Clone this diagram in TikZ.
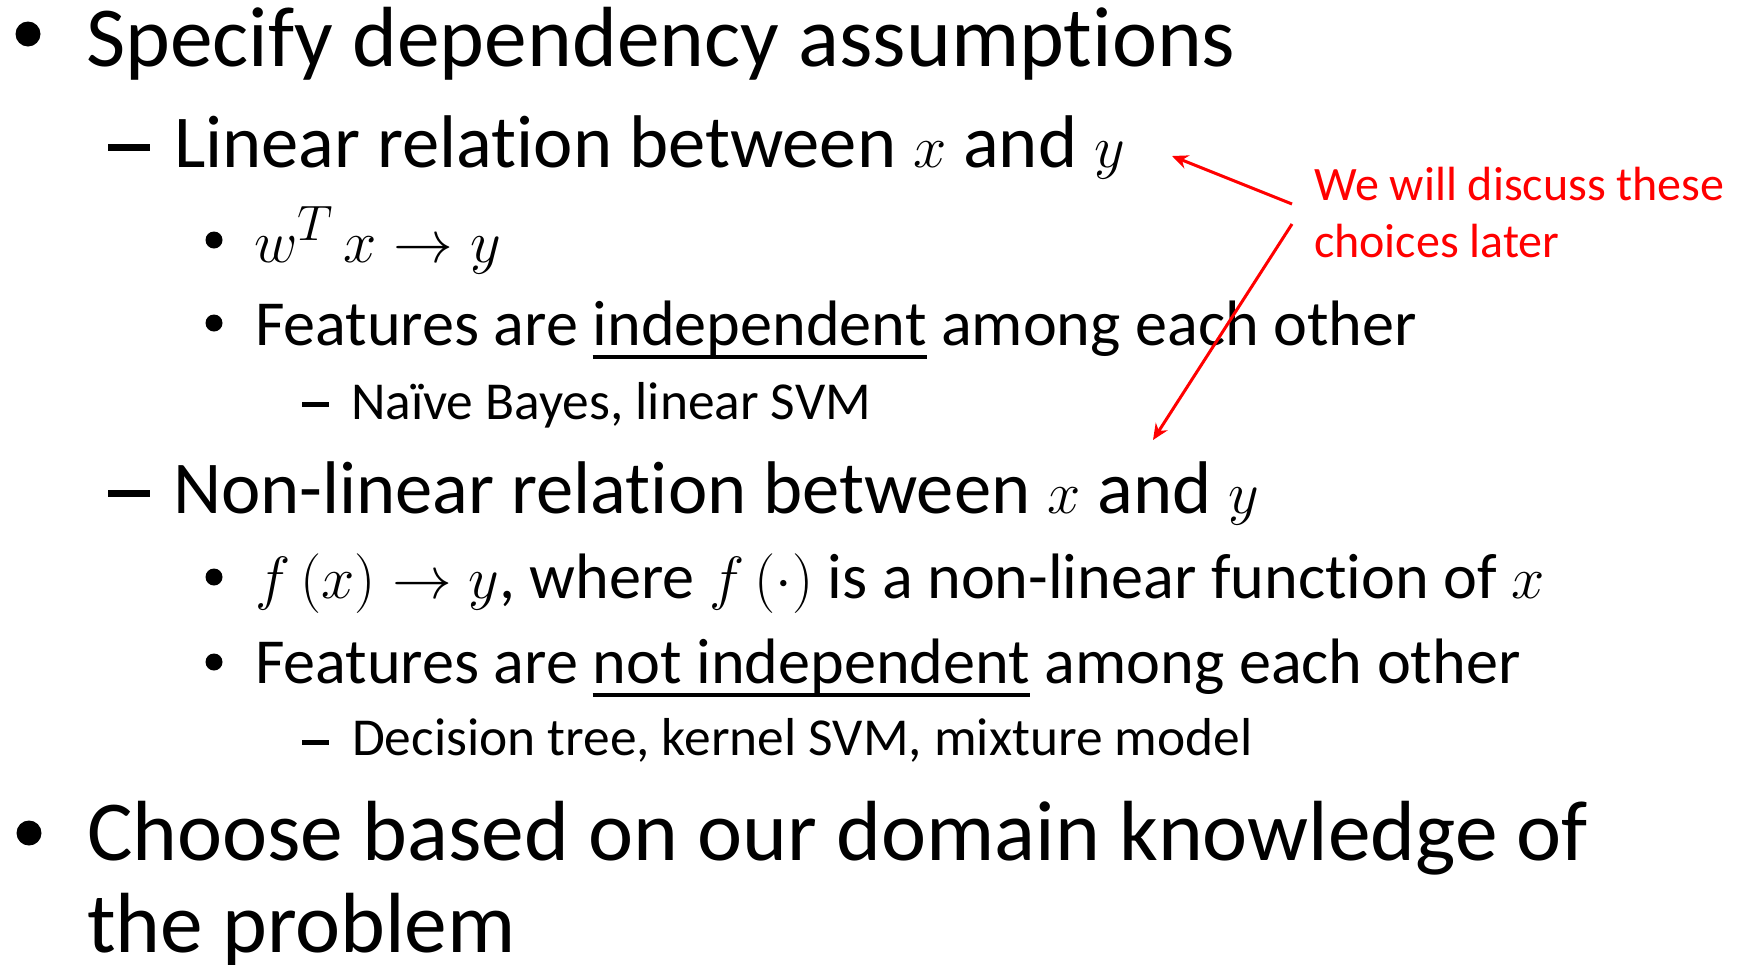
\documentclass[tikz,border=0pt]{standalone}
\usepackage{fontspec}
\usepackage{graphicx}
\setmainfont{Carlito}[Ligatures=NoCommon]
\usetikzlibrary{arrows.meta}
% underline drawn as a rule just below the descenders
\newcommand\undl[1]{\mbox{\sbox0{#1}\rlap{\rule[-7.2pt]{\wd0}{2.2pt}}\usebox0}}
% enlarged inline math
\newcommand\mx[1]{\scalebox{1.2}{$#1$}}
\begin{document}
\begin{tikzpicture}[x=0.5pt,y=-0.5pt,
  txt/.style={anchor=base west, inner sep=0pt, outer sep=0pt},
  lvA/.style={txt, font=\fontsize{42.7}{50}\selectfont},
  lvB/.style={txt, font=\fontsize{37.3}{44}\selectfont},
  lvC/.style={txt, font=\fontsize{32.1}{38}\selectfont},
  lvD/.style={txt, font=\fontsize{26.7}{32}\selectfont},
  dotA/.style={circle, fill=black, draw=none, inner sep=0pt, minimum size=12.5pt},
  dotC/.style={circle, fill=black, draw=none, inner sep=0pt, minimum size=8.5pt},
  dashB/.style={rectangle, fill=black, draw=none, inner sep=0pt, minimum width=21pt, minimum height=3.5pt},
  dashD/.style={rectangle, fill=black, draw=none, inner sep=0pt, minimum width=13.5pt, minimum height=2.5pt},
  note/.style={anchor=base west, inner sep=0pt, outer sep=0pt, text=red, align=left,
    font=\fontsize{24}{28.5}\selectfont},
  pointer/.style={draw=red, line width=1.5pt, -{Stealth[length=8pt,width=7pt]}}
]
\useasboundingbox (0,0) rectangle (1738,964);

% top level: dependency assumptions
\node[dotA] (b1) at (28,34) {};
\node[lvA] (t1) at (86,66) {Specify dependency assumptions};

% linear case
\node[dashB] (d1) at (129,147) {};
\node[lvB] (t2) at (174,167) {Linear relation between \mx{x} and \mx{y}};
\node[dotC] (b2) at (214,240) {};
\node[lvC] (t3) at (254,262) {\mx{w^T\,x \to y}};
\node[dotC] (b3) at (214,323) {};
\node[lvC] (t4) at (255,345) {Features are \undl{independent} among each other};
\node[dashD] (d2) at (315,404) {};
\node[lvD] (t5) at (351,419) {Naïve Bayes, linear SVM};

% non-linear case
\node[dashB] (d3) at (129,493) {};
\node[lvB] (t6) at (173,513) {Non-linear relation between \mx{x} and \mx{y}};
\node[dotC] (b4) at (214,577) {};
\node[lvC] (t7) at (255,598) {\mx{f\,(x) \to y}, where \mx{f\,(\cdot)} is a non-linear function of \mx{x}};
\node[dotC] (b5) at (214,662) {};
\node[lvC] (t8) at (255,683) {Features are \undl{not independent} among each other};
\node[dashD] (d4) at (315,742) {};
\node[lvD] (t9) at (352,755) {Decision tree, kernel SVM, mixture model};

% top level: domain knowledge
\node[dotA] (b6) at (29,833) {};
\node[lvA] (t10) at (87,860) {Choose based on our domain knowledge of};
\node[lvA] (t11) at (87,952) {the problem};

% red remark with its two pointers
\node[note] (remark) at (1314,257) {We will discuss these\\choices later};
\coordinate (fromA) at (1292,204);
\coordinate (fromB) at (1292,224);
\coordinate (tipA) at (1172,156);
\coordinate (tipB) at (1153,440);
\draw[pointer] (fromA) -- (tipA);
\draw[pointer] (fromB) -- (tipB);
\end{tikzpicture}
\end{document}
